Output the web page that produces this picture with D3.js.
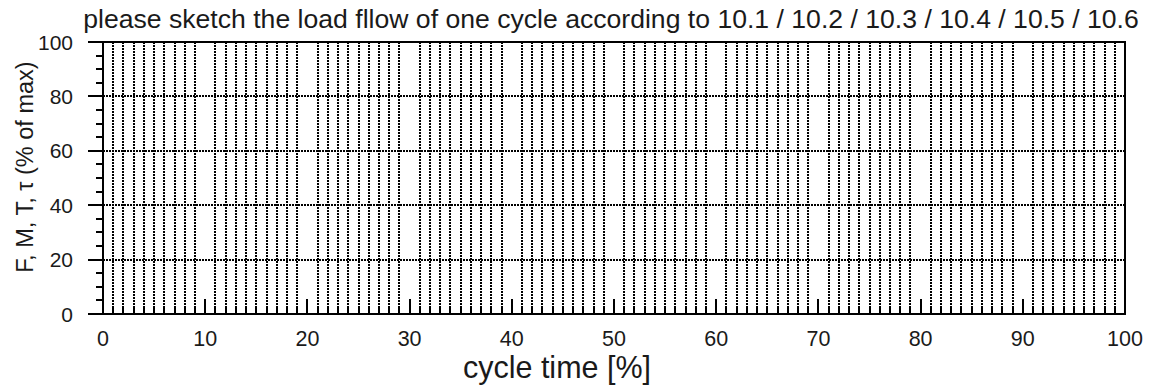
<!DOCTYPE html>
<meta charset="utf-8">
<style>
body { margin: 0; background: #fff; }
text { font-family: "Liberation Sans", Arial, sans-serif; fill: #1a1a1a; }
.grid line { stroke: #000; stroke-width: 2px; stroke-dasharray: 2,1; shape-rendering: crispEdges; }
.hgrid line { stroke: #000; stroke-width: 2px; stroke-dasharray: 2,1; shape-rendering: crispEdges; }
.frame { fill: none; stroke: #000; stroke-width: 2px; shape-rendering: crispEdges; }
.tick-line { stroke: #000; stroke-width: 2px; shape-rendering: crispEdges; }
</style>
<body>
<script src="https://d3js.org/d3.v7.min.js"></script>
<script>

// chart texts and ticks
var title = "please sketch the load fllow of one cycle according to 10.1 / 10.2 / 10.3 / 10.4 / 10.5 / 10.6";
var xLabel = "cycle time [%]";
var yLabel = "F, M, T, \u03c4 (% of max)";
var xTicks = [0, 10, 20, 30, 40, 50, 60, 70, 80, 90, 100];
var yTicks = [0, 20, 40, 60, 80, 100];
var xDomain = [0, 100];
var yDomain = [0, 100];
var xMinorStep = 1;
var yMinorStep = 5;

var margin = {top: 42, right: 29, bottom: 71, left: 103},
    width = 1154 - margin.left - margin.right,
    height = 385 - margin.top - margin.bottom;

var x = d3.scaleLinear().domain(xDomain).range([0, width]);
var y = d3.scaleLinear().domain(yDomain).range([height, 0]);

var svg = d3.select("body").append("svg")
    .attr("width", 1154)
    .attr("height", 385)
  .append("g")
    .attr("transform", "translate(" + margin.left + "," + margin.top + ")");

var xMinor = d3.range(xDomain[0], xDomain[1] + 0.001, xMinorStep);
var yMinor = d3.range(yDomain[0], yDomain[1] + 0.001, yMinorStep);

// vertical dotted grid: every minor step, skipping the major ticks
svg.append("g").attr("class", "grid")
  .selectAll("line")
  .data(xMinor.filter(function(d) { return xTicks.indexOf(d) == -1; }))
  .enter().append("line")
    .attr("x1", function(d) { return x(d); })
    .attr("x2", function(d) { return x(d); })
    .attr("y1", 0)
    .attr("y2", height);

// horizontal dotted grid at the inner major ticks
svg.append("g").attr("class", "hgrid")
  .selectAll("line")
  .data(yTicks.filter(function(d) { return d != yDomain[0] && d != yDomain[1]; }))
  .enter().append("line")
    .attr("x1", 0)
    .attr("x2", width)
    .attr("y1", function(d) { return y(d); })
    .attr("y2", function(d) { return y(d); });

// x axis: ticks point inward
svg.append("g")
  .selectAll("line")
  .data(xMinor)
  .enter().append("line")
    .attr("class", "tick-line")
    .attr("x1", function(d) { return x(d); })
    .attr("x2", function(d) { return x(d); })
    .attr("y1", height)
    .attr("y2", function(d) { return height - (xTicks.indexOf(d) != -1 ? 15 : 7); });

svg.append("g")
  .selectAll("text")
  .data(xTicks)
  .enter().append("text")
    .attr("x", function(d) { return x(d); })
    .attr("y", height + 32)
    .attr("text-anchor", "middle")
    .style("font-size", "21.5px")
    .text(function(d) { return d; });

// y axis: ticks point outward
svg.append("g")
  .selectAll("line")
  .data(yMinor)
  .enter().append("line")
    .attr("class", "tick-line")
    .attr("x1", 0)
    .attr("x2", function(d) { return yTicks.indexOf(d) != -1 ? -15 : -7; })
    .attr("y1", function(d) { return y(d); })
    .attr("y2", function(d) { return y(d); });

svg.append("g")
  .selectAll("text")
  .data(yTicks)
  .enter().append("text")
    .attr("x", -30)
    .attr("y", function(d) { return y(d); })
    .attr("dy", "0.36em")
    .attr("text-anchor", "end")
    .style("font-size", "21px")
    .text(function(d) { return d; });

// frame
svg.append("rect")
    .attr("class", "frame")
    .attr("width", width)
    .attr("height", height);

// titles
svg.append("text")
    .attr("x", width / 2 - 3)
    .attr("y", -14)
    .attr("text-anchor", "middle")
    .style("font-size", "26.6px")
    .text(title);

svg.append("text")
    .attr("x", 454)
    .attr("y", height + 64)
    .attr("text-anchor", "middle")
    .style("font-size", "30.5px")
    .text(xLabel);

svg.append("text")
    .attr("transform", "translate(" + (-70) + "," + (height / 2 - 11) + ") rotate(-90)")
    .attr("text-anchor", "middle")
    .style("font-size", "23.5px")
    .text(yLabel);

</script>
</body>
